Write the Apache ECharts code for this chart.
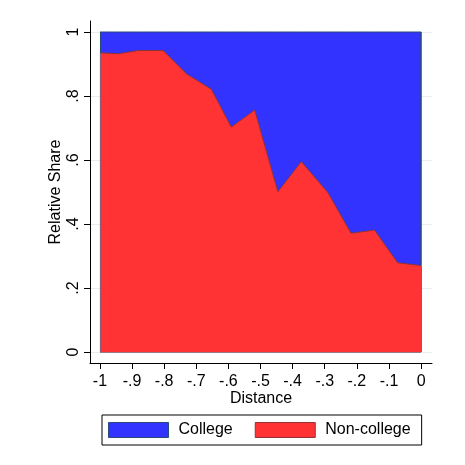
<!DOCTYPE html>
<html>
<head>
<meta charset="utf-8">
<script src="https://cdn.jsdelivr.net/npm/echarts@6/dist/echarts.min.js"></script>
<style>
  html, body { margin: 0; padding: 0; background: #ffffff; }
  #chart { width: 465px; height: 465px; }
</style>
</head>
<body>
<div id="chart"></div>
<script>
// Distance bins and the non-college share in each bin
const distance = [-1.000, -0.943, -0.881, -0.803, -0.730, -0.653, -0.591, -0.518,
                  -0.446, -0.373, -0.290, -0.218, -0.145, -0.073, 0.000];
const nonCollegeShare = [0.935, 0.932, 0.942, 0.942, 0.869, 0.821, 0.703, 0.756,
                         0.501, 0.595, 0.498, 0.371, 0.381, 0.279, 0.270];
// College share is the remainder of each bin
const collegeShare = nonCollegeShare.map(v => +(1 - v).toFixed(3));
// Upper edge of the college band: non-college + college
const collegeTop = nonCollegeShare.map((v, i) => +(v + collegeShare[i]).toFixed(3));

const xTickValues = [-1, -0.9, -0.8, -0.7, -0.6, -0.5, -0.4, -0.3, -0.2, -0.1, 0];
const xTickLabels = ['-1', '-.9', '-.8', '-.7', '-.6', '-.5', '-.4', '-.3', '-.2', '-.1', '0'];
const yTickValues = [0, 0.2, 0.4, 0.6, 0.8, 1];
const yTickLabels = ['0', '.2', '.4', '.6', '.8', '1'];

const FONT = "'Liberation Sans', Arial, sans-serif";
const FS = 16;
const RED = '#ff3333', RED_EDGE = '#8e3434';
const BLUE = '#3333ff', BLUE_EDGE = '#2a4a78';

function lookup(values, labels) {
  return v => {
    const i = values.findIndex(t => Math.abs(t - v) < 1e-9);
    return i < 0 ? '' : labels[i];
  };
}

const first = 0, last = distance.length - 1;

const chart = echarts.init(document.getElementById('chart'), null, { renderer: 'canvas' });
chart.setOption({
  animation: false,
  backgroundColor: '#ffffff',
  textStyle: { fontFamily: FONT },
  grid: { left: 90, right: 33, top: 21, bottom: 102 },
  xAxis: {
    type: 'value',
    min: -1.031, max: 0.034,
    name: 'Distance',
    nameLocation: 'middle',
    nameGap: 28,
    nameMoveOverlap: false,
    nameTextStyle: { fontFamily: FONT, fontSize: FS, color: '#000' },
    axisLine: { show: true, onZero: false, lineStyle: { color: '#000', width: 1 } },
    axisTick: { show: true, length: 6, customValues: xTickValues, lineStyle: { color: '#000' } },
    axisLabel: {
      customValues: xTickValues,
      formatter: lookup(xTickValues, xTickLabels),
      fontFamily: FONT, fontSize: FS, color: '#000', margin: 11
    },
    splitLine: { show: false }
  },
  yAxis: {
    type: 'value',
    min: -0.0344, max: 1.0344,
    name: 'Relative Share',
    nameLocation: 'middle',
    nameGap: 26,
    nameMoveOverlap: false,
    nameTextStyle: { fontFamily: FONT, fontSize: FS, color: '#000' },
    axisLine: { show: true, onZero: false, lineStyle: { color: '#000', width: 1 } },
    axisTick: { show: true, length: 6, customValues: yTickValues, lineStyle: { color: '#000' } },
    axisLabel: {
      customValues: yTickValues,
      formatter: lookup(yTickValues, yTickLabels),
      rotate: 90,
      fontFamily: FONT, fontSize: FS, color: '#000', margin: 8
    },
    splitLine: { show: true, lineStyle: { color: '#e6eef0', width: 1 } }
  },
  legend: {
    data: [
      { name: 'College', itemStyle: { color: BLUE, borderColor: BLUE_EDGE, borderWidth: 1 } },
      { name: 'Non-college', itemStyle: { color: RED, borderColor: RED_EDGE, borderWidth: 1 } }
    ],
    icon: 'rect',
    left: 102, top: 415,
    itemWidth: 60, itemHeight: 15,
    itemGap: 22,
    padding: [7, 11, 7, 6],
    borderColor: '#000', borderWidth: 1, borderRadius: 0,
    textStyle: { fontFamily: FONT, fontSize: FS, color: '#000', padding: [0, 0, 0, 5] }
  },
  series: [
    {
      name: 'College',
      type: 'line',
      data: distance.map((d, i) => [d, collegeTop[i]]),
      showSymbol: false,
      symbol: 'none',
      lineStyle: { color: BLUE_EDGE, width: 1 },
      itemStyle: { color: BLUE },
      areaStyle: { color: BLUE, opacity: 1, origin: 0 },
      z: 2
    },
    {
      name: 'Non-college',
      type: 'line',
      data: distance.map((d, i) => [d, nonCollegeShare[i]]),
      showSymbol: false,
      symbol: 'none',
      lineStyle: { color: RED_EDGE, width: 1 },
      itemStyle: { color: RED },
      areaStyle: { color: RED, opacity: 1, origin: 0 },
      z: 3
    },
    {
      // outline of the two filled regions along the sides and base
      name: 'edges',
      type: 'line',
      data: [],
      silent: true,
      z: 4,
      markLine: {
        silent: true,
        symbol: 'none',
        label: { show: false },
        animation: false,
        data: [
          [{ coord: [distance[first], 0], lineStyle: { color: '#8a5a7a', width: 1, type: 'solid' } },
           { coord: [distance[first], nonCollegeShare[first]] }],
          [{ coord: [distance[last], 0], lineStyle: { color: '#8a5a7a', width: 1, type: 'solid' } },
           { coord: [distance[last], nonCollegeShare[last]] }],
          [{ coord: [distance[first], 0], lineStyle: { color: '#9a7a8a', width: 1, type: 'solid' } },
           { coord: [distance[last], 0] }],
          [{ coord: [distance[first], nonCollegeShare[first]], lineStyle: { color: BLUE_EDGE, width: 1, type: 'solid' } },
           { coord: [distance[first], collegeTop[first]] }],
          [{ coord: [distance[last], nonCollegeShare[last]], lineStyle: { color: BLUE_EDGE, width: 1.5, type: 'solid' } },
           { coord: [distance[last], collegeTop[last]] }]
        ]
      }
    }
  ]
});
</script>
</body>
</html>
